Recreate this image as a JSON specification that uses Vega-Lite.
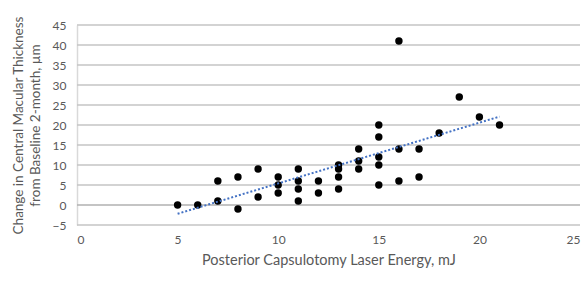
{
  "$schema": "https://vega.github.io/schema/vega-lite/v6.json",
  "width": 503,
  "height": 200,
  "autosize": {"type": "none"},
  "padding": {"left": 77, "top": 25, "right": 5, "bottom": 57},
  "background": "white",
  "config": {
    "view": {"stroke": null},
    "font": "Lato",
    "axis": {"labelColor": "#595959", "titleColor": "#595959", "labelFont": "Lato", "titleFont": "Lato", "titleFontWeight": "normal", "labelOverlap": false}
  },
  "datasets": {
    "points": [
      {"energy": 5, "change": 0},
      {"energy": 6, "change": 0},
      {"energy": 7, "change": 6},
      {"energy": 7, "change": 1},
      {"energy": 8, "change": 7},
      {"energy": 8, "change": -1},
      {"energy": 9, "change": 9},
      {"energy": 9, "change": 2},
      {"energy": 10, "change": 7},
      {"energy": 10, "change": 5},
      {"energy": 10, "change": 3},
      {"energy": 11, "change": 9},
      {"energy": 11, "change": 6},
      {"energy": 11, "change": 4},
      {"energy": 11, "change": 1},
      {"energy": 12, "change": 6},
      {"energy": 12, "change": 3},
      {"energy": 13, "change": 10},
      {"energy": 13, "change": 9},
      {"energy": 13, "change": 7},
      {"energy": 13, "change": 4},
      {"energy": 14, "change": 14},
      {"energy": 14, "change": 11},
      {"energy": 14, "change": 9},
      {"energy": 15, "change": 20},
      {"energy": 15, "change": 17},
      {"energy": 15, "change": 12},
      {"energy": 15, "change": 10},
      {"energy": 15, "change": 5},
      {"energy": 16, "change": 41},
      {"energy": 16, "change": 14},
      {"energy": 16, "change": 6},
      {"energy": 17, "change": 14},
      {"energy": 17, "change": 7},
      {"energy": 18, "change": 18},
      {"energy": 19, "change": 27},
      {"energy": 20, "change": 22},
      {"energy": 21, "change": 20}
    ],
    "trend": [
      {"energy": 5, "change": -2.2},
      {"energy": 21, "change": 22.1}
    ],
    "gridlines": [
      {"change": -5}, {"change": 5}, {"change": 10}, {"change": 15}, {"change": 20},
      {"change": 25}, {"change": 30}, {"change": 35}, {"change": 40}, {"change": 45}
    ],
    "zero": [{"change": 0}]
  },
  "encoding": {
    "x": {
      "field": "energy", "type": "quantitative",
      "scale": {"domain": [0, 25], "nice": false, "zero": false},
      "axis": {
        "values": [0, 5, 10, 15, 20, 25],
        "title": "Posterior Capsulotomy Laser Energy, mJ",
        "titleFontSize": 14.5, "labelFontSize": 12,
        "domain": false, "ticks": false, "grid": false,
        "labelPadding": 9, "titlePadding": 8
      }
    },
    "y": {
      "field": "change", "type": "quantitative",
      "scale": {"domain": [-5, 45], "nice": false, "zero": false},
      "axis": {
        "values": [-5, 0, 5, 10, 15, 20, 25, 30, 35, 40, 45],
        "title": ["Change in Central Macular Thickness", "from Baseline 2-month, µm"],
        "titleFontSize": 13.5, "labelFontSize": 12,
        "domain": true, "domainColor": "#d9d9d9", "domainWidth": 1.5,
        "ticks": false, "grid": false,
        "labelPadding": 11, "titlePadding": 10, "titleLineHeight": 17
      }
    }
  },
  "layer": [
    {
      "data": {"name": "gridlines"},
      "mark": {"type": "rule", "color": "#c4c4c4", "strokeWidth": 1.5},
      "encoding": {
        "x": null
      }
    },
    {
      "data": {"name": "zero"},
      "mark": {"type": "rule", "color": "#b0b0b0", "strokeWidth": 1.5},
      "encoding": {
        "x": null
      }
    },
    {
      "data": {"name": "points"},
      "mark": {"type": "circle", "color": "black", "opacity": 1, "size": 55}
    },
    {
      "data": {"name": "trend"},
      "mark": {"type": "line", "color": "#4472C4", "strokeWidth": 2, "strokeDash": [2, 2]}
    }
  ]
}
